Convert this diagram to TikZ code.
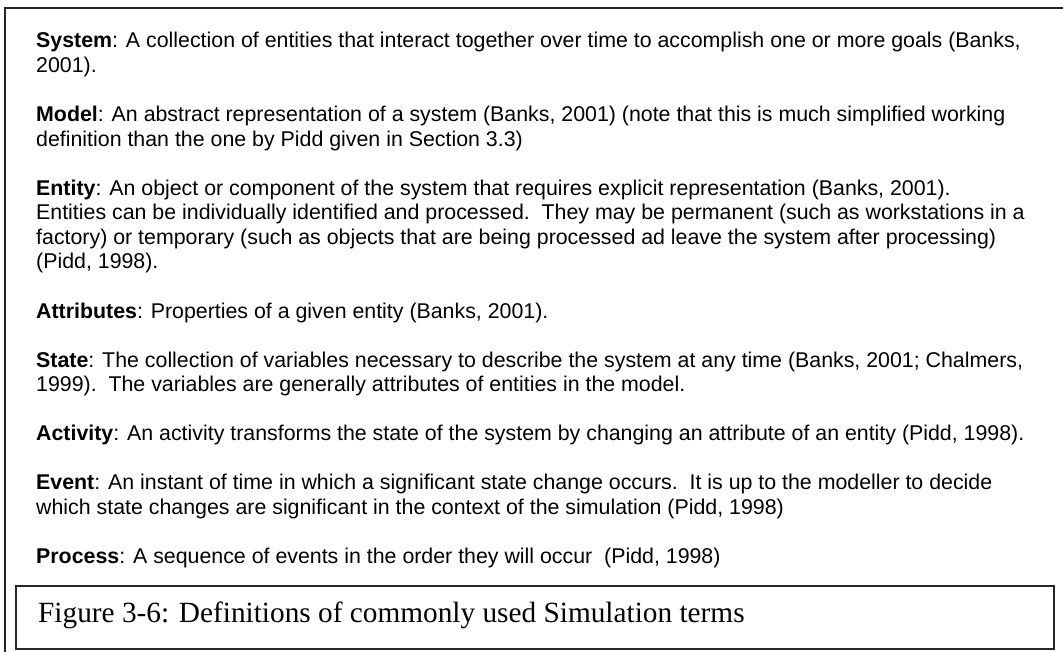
\documentclass[tikz,border=0pt]{standalone}
\usepackage{fontspec}
\setmainfont{Liberation Serif}
\setsansfont{Liberation Sans}
\begin{document}
\begin{tikzpicture}[x=1pt,y=-1pt,
  frame/.style={draw=black!85,line width=1.7pt},
  body/.style={anchor=base west,inner sep=0pt,font=\sffamily\fontsize{21.35}{24.55}\selectfont},
  captiontext/.style={anchor=base west,inner sep=0pt,font=\rmfamily\fontsize{29.3}{34}\selectfont}]
\useasboundingbox (0,0) rectangle (1063,652);
\clip (0,0) rectangle (1063,652);
% outer frame, running past the right and bottom edges
\draw[frame] (4.8,700) -- (4.8,8.3) -- (1100,8.3);
% definition lines: baseline 48 + k * 24.55
\node[body] (l1)  at (36,48.0)  {\textbf{System}: A collection of entities that interact together over time to accomplish one or more goals (Banks,};
\node[body] (l2)  at (36,72.55) {2001).};
\node[body] (l3)  at (36,121.65) {\textbf{Model}: An abstract representation of a system (Banks, 2001) (note that this is much simplified working};
\node[body] (l4)  at (36,146.2) {definition than the one by Pidd given in Section 3.3)};
\node[body] (l5)  at (36,195.3) {\textbf{Entity}: An object or component of the system that requires explicit representation (Banks, 2001).};
\node[body] (l6)  at (36,219.85) {Entities can be individually identified and processed.\ \ They may be permanent (such as workstations in a};
\node[body] (l7)  at (36,244.4) {factory) or temporary (such as objects that are being processed ad leave the system after processing)};
\node[body] (l8)  at (36,268.95) {(Pidd, 1998).};
\node[body] (l9)  at (36,318.05) {\textbf{Attributes}: Properties of a given entity (Banks, 2001).};
\node[body] (l10) at (36,367.15) {\textbf{State}: The collection of variables necessary to describe the system at any time (Banks, 2001; Chalmers,};
\node[body] (l11) at (36,391.7) {1999).\ \ The variables are generally attributes of entities in the model.};
\node[body] (l12) at (36,440.8) {\textbf{Activity}: An activity transforms the state of the system by changing an attribute of an entity (Pidd, 1998).};
\node[body] (l13) at (36,489.9) {\textbf{Event}: An instant of time in which a significant state change occurs.\ \ It is up to the modeller to decide};
\node[body] (l14) at (36,514.45) {which state changes are significant in the context of the simulation (Pidd, 1998)};
\node[body] (l15) at (36,563.55) {\textbf{Process}: A sequence of events in the order they will occur\ \ (Pidd, 1998)};
% caption box
\draw[frame] (16,585.8) rectangle (1054,649);
\node[captiontext] (cap) at (38,622.7) {Figure 3-6: Definitions of commonly used Simulation terms};
\end{tikzpicture}
\end{document}
